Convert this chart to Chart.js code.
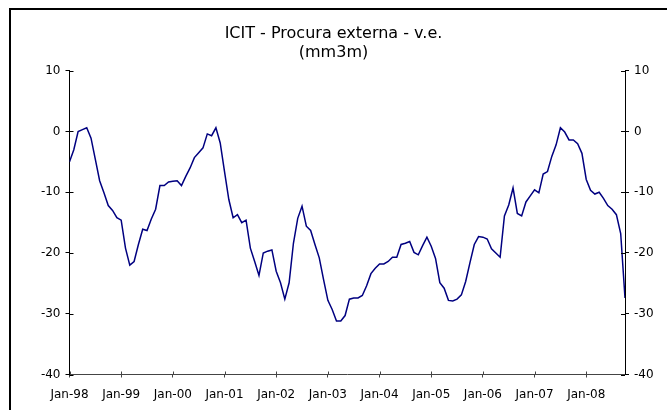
<!DOCTYPE html>
<html>
<head>
	<script type="text/javascript" src="https://cdn.jsdelivr.net/npm/chart.js@4"></script>
	<style>
		body { margin: 0; background: #fff; overflow: hidden; }
		#frame { position: absolute; left: 9px; top: 8px; width: 720px; height: 480px; border: 2px solid #000; }
		#canvas { position: absolute; left: 0; top: 0; }
	</style>
</head>
<body>
	<div id="frame"></div>
	<canvas id="canvas" width="667" height="410"></canvas>
	<script type="text/javascript">

	// monthly values, Jan-98 .. Oct-08
	var values = [
		-5.0, -3.0, 0.0, 0.3, 0.6, -1.1, -4.6, -8.1, -10.1, -12.2, -13.0, -14.2,
		-14.6, -19.2, -22.0, -21.4, -18.6, -16.1, -16.3, -14.4, -12.8, -8.9, -8.9, -8.3,
		-8.2, -8.1, -8.9, -7.4, -6.0, -4.3, -3.5, -2.7, -0.4, -0.7, 0.6, -1.9,
		-6.6, -11.2, -14.2, -13.7, -15.0, -14.6, -19.2, -21.4, -23.7, -20.0, -19.7, -19.5,
		-23.0, -24.9, -27.6, -24.9, -18.4, -14.3, -12.3, -15.6, -16.3, -18.6, -20.8, -24.4,
		-27.8, -29.3, -31.2, -31.2, -30.3, -27.6, -27.4, -27.4, -27.0, -25.4, -23.4, -22.5,
		-21.8, -21.8, -21.4, -20.7, -20.7, -18.6, -18.4, -18.1, -19.9, -20.3, -18.8, -17.4,
		-18.9, -20.9, -24.9, -25.8, -27.8, -27.9, -27.6, -26.9, -24.7, -21.6, -18.6, -17.3,
		-17.4, -17.7, -19.3, -20.0, -20.7, -13.9, -12.1, -9.3, -13.5, -13.9, -11.6, -10.6,
		-9.6, -10.1, -7.0, -6.6, -4.1, -2.2, 0.6, -0.1, -1.4, -1.4, -2.0, -3.6,
		-7.9, -9.7, -10.3, -10.0, -11.0, -12.2, -12.8, -13.7, -16.8, -27.4
	];
	var xTickLabels = ['Jan-98','Jan-99','Jan-00','Jan-01','Jan-02','Jan-03','Jan-04','Jan-05','Jan-06','Jan-07','Jan-08'];
	var yTicks = [10, 0, -10, -20, -30, -40];

	var points = values.map(function(v, i){ return {x: i, y: v}; });

	var font = "'DejaVu Sans', sans-serif";

	// small tick marks that cross into the plot area
	var innerTicks = {
		id: 'innerTicks',
		afterDraw: function(chart){
			var c = chart.ctx, a = chart.chartArea;
			c.save();
			c.lineWidth = 1;
			c.strokeStyle = '#000';
			c.beginPath();
			yTicks.forEach(function(t){
				var py = Math.round(chart.scales.y.getPixelForValue(t)) + 0.5;
				c.moveTo(a.left, py); c.lineTo(a.left + 4, py);
				c.moveTo(a.right - 4, py); c.lineTo(a.right, py);
			});
			c.stroke();
			c.strokeStyle = '#444';
			c.beginPath();
			xTickLabels.forEach(function(l, i){
				var px = Math.round(chart.scales.x.getPixelForValue(i * 12)) + 0.5;
				c.moveTo(px, a.bottom - 3); c.lineTo(px, a.bottom);
			});
			c.stroke();
			c.restore();
		}
	};

	var yScale = function(pos, w){
		return {
			type: 'linear', position: pos, min: -40, max: 10,
			grid: { drawOnChartArea: false, tickLength: 4, color: '#000' },
			border: { color: '#000', width: 1 },
			ticks: { stepSize: 10, padding: 5, color: '#000', font: { family: font, size: 12 } },
			afterFit: function(s){ s.width = w; }
		};
	};

	var ctx = document.getElementById("canvas").getContext("2d");
	var chart = new Chart(ctx, {
		type: 'line',
		data: {
			datasets: [{
				data: points,
				borderColor: '#000080',
				borderWidth: 1.5,
				pointRadius: 0,
				tension: 0,
				fill: false
			}]
		},
		options: {
			responsive: false,
			animation: false,
			layout: { padding: 0 },
			plugins: {
				legend: { display: false },
				tooltip: { enabled: false },
				title: {
					display: true,
					text: ['ICIT - Procura externa - v.e.', '(mm3m)'],
					color: '#000',
					font: { family: font, size: 16, weight: 'normal', lineHeight: 1.2 },
					padding: { top: 24, bottom: 8.3 }
				}
			},
			scales: {
				x: {
					type: 'linear', min: 0, max: values.length - 1,
					grid: { drawOnChartArea: false, tickLength: 3, color: '#444' },
					border: { color: '#444', width: 1 },
					ticks: {
						color: '#000', padding: 10, maxRotation: 0, autoSkip: false,
						font: { family: font, size: 12 },
						callback: function(v){ return xTickLabels[v / 12]; }
					},
					afterBuildTicks: function(s){
						s.ticks = xTickLabels.map(function(l, i){ return {value: i * 12}; });
					},
					afterFit: function(s){ s.height = 35.5; }
				},
				y: yScale('left', 69.5),
				y2: yScale('right', 42)
			}
		},
		plugins: [innerTicks]
	});

	</script>
</body>
</html>
